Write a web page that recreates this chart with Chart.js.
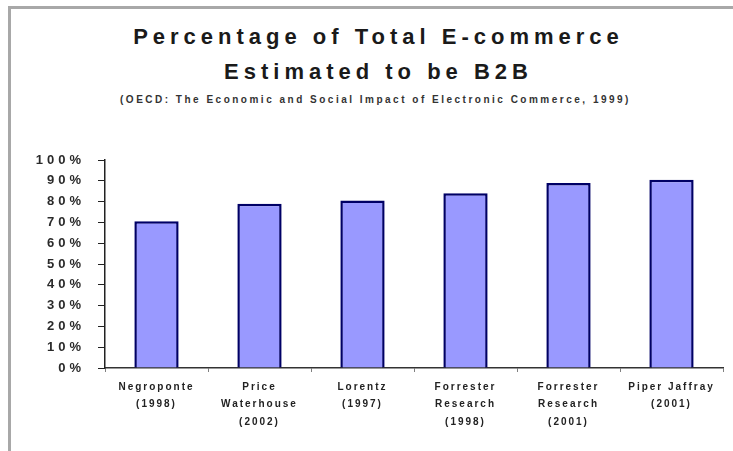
<!DOCTYPE html>
<html>
<head>
<meta charset="utf-8">
<script src="https://cdn.jsdelivr.net/npm/chart.js@4.4.1/dist/chart.umd.min.js"></script>
<style>
    html, body { margin: 0; padding: 0; background: #fff; }
    #wrap { position: relative; width: 733px; height: 451px; overflow: hidden; font-family: "Liberation Sans", Arial, sans-serif; }
    #frame { position: absolute; left: 8px; top: 6px; width: 740px; height: 460px; border-left: 3px solid #a8a8a8; border-top: 3px solid #a8a8a8; }
    .title { position: absolute; width: 733px; text-align: center; color: #1a1a1a; }
    #t1 { left: 12px; top: 24px; font: bold 22px "Liberation Sans", Arial, sans-serif; letter-spacing: 5px; }
    #t2 { left: 12px; top: 59px; font: bold 22px "Liberation Sans", Arial, sans-serif; letter-spacing: 5px; }
    #sub { left: 9px; top: 94px; font: bold 10px "Liberation Sans", Arial, sans-serif; letter-spacing: 2.5px; color: #333; }
    #chartBox { position: absolute; left: 0; top: 0; width: 733px; height: 451px; }
</style>
</head>
<body>
<div id="wrap">
    <div id="frame"></div>
    <div class="title" id="t1">Percentage of Total E-commerce</div>
    <div class="title" id="t2">Estimated to be B2B</div>
    <div class="title" id="sub">(OECD: The Economic and Social Impact of Electronic Commerce, 1999)</div>
    <div id="chartBox"><canvas id="b2bChart"></canvas></div>
</div>
<script>
// values
const sources = [
    ['Negroponte', '(1998)'],
    ['Price', 'Waterhouse', '(2002)'],
    ['Lorentz', '(1997)'],
    ['Forrester', 'Research', '(1998)'],
    ['Forrester', 'Research', '(2001)'],
    ['Piper Jaffray', '(2001)']
];
const b2bShare = [70.5, 79, 80.5, 84, 89, 90.5];
const yTicks = [0, 10, 20, 30, 40, 50, 60, 70, 80, 90, 100];

// canvas has no letter-spacing option in Chart.js, so wrap drawLabels
function spacedLabels(scale, spacing) {
    if (scale._spaced) return;
    const orig = scale.drawLabels;
    scale.drawLabels = function (area) {
        const ctx = this.ctx;
        ctx.save();
        ctx.letterSpacing = spacing;
        orig.call(this, area);
        ctx.restore();
    };
    scale._spaced = true;
}

const ctx = document.getElementById('b2bChart').getContext('2d');
new Chart(ctx, {
    type: 'bar',
    data: {
        labels: sources,
        datasets: [{
            data: b2bShare,
            backgroundColor: '#9999ff',
            borderColor: '#000066',
            borderWidth: 2.5,
            borderSkipped: 'bottom',
            barPercentage: 0.43,
            categoryPercentage: 1
        }]
    },
    options: {
        responsive: true,
        maintainAspectRatio: false,
        animation: false,
        layout: { padding: { left: 8, top: 160, right: 10, bottom: 0 } },
        plugins: {
            legend: { display: false },
            title: { display: false },
            tooltip: { enabled: false }
        },
        scales: {
            x: {
                offset: true,
                grid: {
                    display: true,
                    drawOnChartArea: false,
                    drawTicks: true,
                    tickLength: 4,
                    color: '#808080',
                    offset: true
                },
                border: { display: true, color: '#333', width: 1.5 },
                ticks: {
                    color: '#222',
                    font: { family: 'Liberation Sans', size: 10, weight: 'bold', lineHeight: 1.75 },
                    padding: 6,
                    maxRotation: 0,
                    autoSkip: false
                },
                afterFit(scale) {
                    scale.height = 83;
                    spacedLabels(scale, '2px');
                }
            },
            y: {
                min: 0,
                max: 100,
                afterBuildTicks(scale) {
                    scale.ticks = yTicks.map(v => ({ value: v }));
                },
                grid: {
                    display: true,
                    drawOnChartArea: false,
                    drawTicks: true,
                    tickLength: 7,
                    color: '#222'
                },
                border: { display: true, color: '#222', width: 1.5 },
                ticks: {
                    color: '#2a2a2a',
                    font: { family: 'Liberation Sans', size: 13, weight: 'bold' },
                    padding: 13,
                    callback: v => v + '%'
                },
                afterFit(scale) {
                    scale.width = 97;
                    spacedLabels(scale, '4px');
                }
            }
        }
    }
});
</script>
</body>
</html>
